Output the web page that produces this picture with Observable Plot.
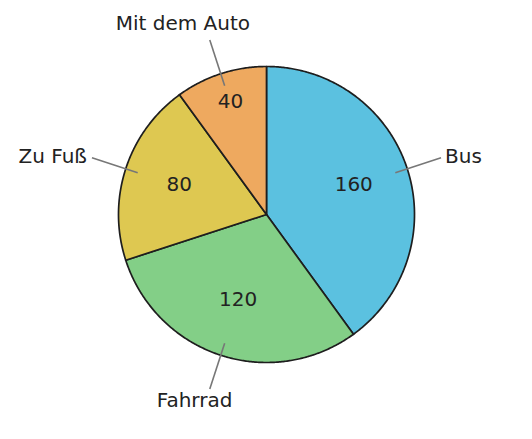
<!DOCTYPE html>
<html>
<head>
<meta charset="utf-8">
<script src="https://cdn.jsdelivr.net/npm/d3@7"></script>
<script src="https://cdn.jsdelivr.net/npm/@observablehq/plot@0.6"></script>
<style>
  html, body { margin: 0; padding: 0; background: #fff; }
  #chart { width: 532px; height: 439px; }
</style>
</head>
<body>
<div id="chart"></div>
<script>
// Data
const categories = ["Bus", "Fahrrad", "Zu Fuß", "Mit dem Auto"];
const counts = [160, 120, 80, 40];
const sliceColors = ["#5bc1e0", "#83cf87", "#dec851", "#eea95f"];

const W = 532, H = 439;
const R = 148;               // pie radius in px
const cx = 266, cy = 214;    // centre in px
const FONT = "DejaVu Sans";
const FS = 20;

const rows = categories.map((c, i) => ({label: c, value: counts[i]}));
const arcs = d3.pie().sort(null).value(d => d.value)(rows);

// polygon points per slice (unit radius, angle clockwise from 12 o'clock)
const pt = (a, r) => ({x: r * Math.sin(a), y: r * Math.cos(a)});
const polys = [];
for (const a of arcs) {
  const n = Math.max(2, Math.ceil((a.endAngle - a.startAngle) / (Math.PI / 360)));
  polys.push({label: a.data.label, ...pt(0, 0)});
  for (let k = 0; k <= n; k++) {
    const t = a.startAngle + (a.endAngle - a.startAngle) * k / n;
    polys.push({label: a.data.label, ...pt(t, 1)});
  }
}

// text width measurement
const ctx = document.createElement("canvas").getContext("2d");
ctx.font = `${FS}px "${FONT}"`;
const tw = s => ctx.measureText(s).width;

const mids = arcs.map(a => {
  const m = (a.startAngle + a.endAngle) / 2;
  const dx = Math.sin(m), dy = Math.cos(m);
  const small = (a.endAngle - a.startAngle) < Math.PI / 4;
  const rIn = small ? 0.79 : 0.62;
  // outer label alignment
  const f = Math.min(1, Math.max(0, 0.5 - 0.65 * dx));
  let anchor, ox;
  if (f <= 0) { anchor = "start"; ox = 4; }
  else if (f >= 1) { anchor = "end"; ox = -5; }
  else { anchor = "start"; ox = -f * tw(a.data.label); }
  let oy = -0.8;
  if (Math.abs(dy) > 0.7) oy = dy > 0 ? -16 : 12;
  return {
    label: a.data.label, value: a.data.value,
    ix: rIn * dx, iy: rIn * dy,
    x1: 0.915 * dx, y1: 0.915 * dy,
    x2: 1.24 * dx, y2: 1.24 * dy,
    anchor, ox, oy
  };
});

const marks = [
  Plot.line(polys, {
    x: "x", y: "y", z: "label", fill: "label",
    stroke: "#1e1e1e", strokeWidth: 1.7, strokeLinejoin: "round",
    curve: "linear-closed"
  }),
  Plot.link(mids, {x1: "x1", y1: "y1", x2: "x2", y2: "y2", stroke: "#777", strokeWidth: 1.6}),
  Plot.text(mids, {x: "ix", y: "iy", text: d => String(d.value), fill: "#222",
    fontSize: FS, lineAnchor: "middle", textAnchor: "middle", dy: -2})
];
for (const m of mids) {
  marks.push(Plot.text([m], {x: "x2", y: "y2", text: "label", fill: "#222",
    fontSize: FS, lineAnchor: "middle", textAnchor: m.anchor, dx: m.ox, dy: m.oy}));
}

const chart = Plot.plot({
  width: W, height: H,
  margin: 0,
  style: {fontFamily: FONT, background: "#fff"},
  x: {domain: [-cx / R, (W - cx) / R], axis: null},
  y: {domain: [-(H - cy) / R, cy / R], axis: null},
  color: {domain: categories, range: sliceColors},
  marks
});
document.getElementById("chart").appendChild(chart);
</script>
</body>
</html>
